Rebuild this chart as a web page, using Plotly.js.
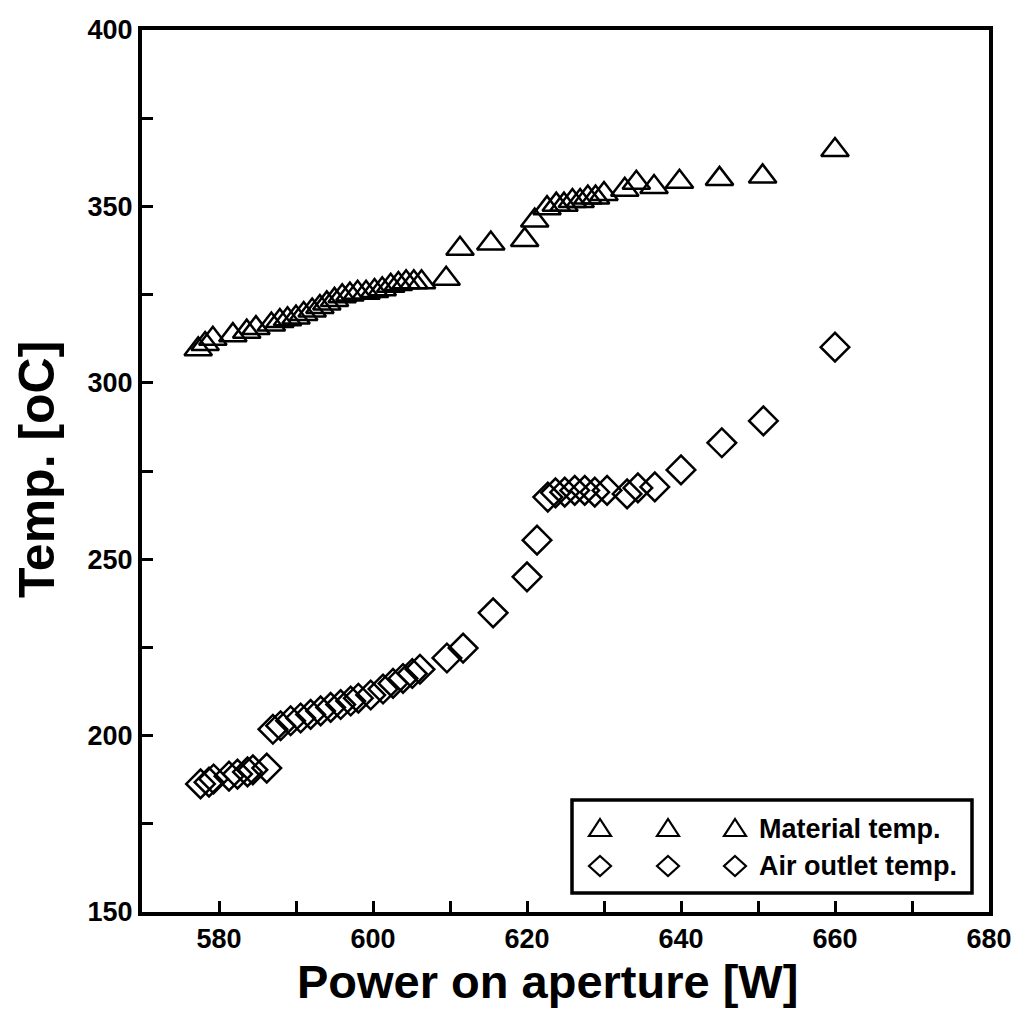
<!DOCTYPE html>
<html>
<head>
<meta charset="utf-8">
<script src="https://cdn.plot.ly/plotly-3.0.1.min.js"></script>
<style>html,body{margin:0;padding:0;background:#fff;}#chart{width:1016px;height:1020px;}</style>
</head>
<body>
<div id="chart"></div>
<script>
// Material temperature (triangles)
var matPower = [577.3, 578.2, 579.2, 581.8, 583.6, 584.8, 586.8, 587.9, 588.9, 590.0, 591.0, 592.1, 593.1, 594.0, 595.0, 596.0, 597.0, 598.0, 599.1, 600.2, 601.2, 602.3, 603.3, 604.3, 605.3, 606.3, 609.5, 611.3, 615.3, 619.7, 621.0, 622.6, 623.8, 624.8, 625.9, 626.9, 627.9, 628.9, 630.0, 632.7, 634.2, 636.5, 639.8, 645.0, 650.6, 660.0];
var matTemp = [309.5, 311.0, 312.5, 313.5, 314.5, 315.5, 316.5, 317.5, 318.0, 318.5, 319.5, 320.5, 321.5, 322.5, 323.5, 324.5, 325.0, 325.5, 325.5, 326.0, 326.5, 327.5, 328.0, 328.5, 328.5, 328.5, 329.5, 338.0, 339.5, 340.5, 346.0, 349.5, 350.5, 350.5, 351.5, 351.5, 352.5, 352.5, 353.5, 354.7, 356.7, 355.5, 357.0, 357.8, 358.5, 366.0];

// Air outlet temperature (diamonds)
var airPower = [577.6, 578.7, 579.3, 581.3, 582.4, 583.7, 584.4, 586.2, 587.0, 588.0, 589.3, 590.6, 591.9, 593.2, 594.5, 595.8, 597.1, 598.1, 599.7, 601.3, 602.6, 603.9, 605.1, 606.1, 609.6, 611.7, 615.6, 620.0, 621.3, 622.7, 623.7, 624.9, 626.2, 627.5, 628.8, 630.4, 633.0, 634.4, 636.6, 640.0, 645.3, 650.7, 660.0];
var airTemp = [186.3, 186.8, 187.7, 188.5, 189.1, 189.7, 190.3, 190.8, 201.8, 202.8, 204.2, 205.0, 206.0, 207.0, 208.0, 208.8, 209.8, 210.6, 211.5, 213.2, 214.8, 216.2, 217.6, 218.8, 222.0, 224.8, 234.8, 245.0, 255.4, 267.6, 268.8, 269.0, 269.5, 269.5, 269.0, 269.5, 268.5, 270.2, 270.5, 275.3, 283.0, 289.2, 310.1];

var xTickVals = [580, 600, 620, 640, 660, 680];
var yTickVals = [150, 200, 250, 300, 350, 400];
var seriesNames = ['Material temp.', 'Air outlet temp.'];
var xTitle = 'Power on aperture [W]';
var yTitle = 'Temp. [oC]';

var traces = [
  {x: matPower, y: matTemp, name: seriesNames[0], type: 'scatter', mode: 'markers',
   marker: {symbol: 'triangle-up-open', size: 24, color: '#000', line: {width: 2.5, color: '#000'}}},
  {x: airPower, y: airTemp, name: seriesNames[1], type: 'scatter', mode: 'markers',
   marker: {symbol: 'diamond-open', size: 22, color: '#000', line: {width: 2.5, color: '#000'}}}
];

var fontFam = '"Liberation Sans", Arial, sans-serif';
var W = 1016, H = 1020;
var ml = 142, mr = 27, mt = 30, mb = 108;
var pw = W - ml - mr, ph = H - mt - mb;
function px(X) { return (X - ml) / pw; }
function py(Y) { return (H - mb - Y) / ph; }

// Origin-style legend drawn in paper space: box, three symbols per row, label
var shapes = [];
var annotations = [];
var legBox = {x0: 572, y0: 800, x1: 972, y1: 893};
shapes.push({type: 'rect', xref: 'paper', yref: 'paper',
  x0: px(legBox.x0), x1: px(legBox.x1), y0: py(legBox.y1), y1: py(legBox.y0),
  line: {color: '#000', width: 3.5}, fillcolor: '#fff', layer: 'above'});
var rowY = [829, 866], symX = [600, 668, 735], textX = 757;
function triPath(cx, cy) {
  return 'M' + px(cx - 11) + ',' + py(cy + 7) + ' L' + px(cx + 11) + ',' + py(cy + 7) +
         ' L' + px(cx) + ',' + py(cy - 10) + ' Z';
}
function diaPath(cx, cy) {
  return 'M' + px(cx) + ',' + py(cy - 10) + ' L' + px(cx + 11) + ',' + py(cy) +
         ' L' + px(cx) + ',' + py(cy + 10) + ' L' + px(cx - 11) + ',' + py(cy) + ' Z';
}
for (var k = 0; k < symX.length; k++) {
  shapes.push({type: 'path', xref: 'paper', yref: 'paper', path: triPath(symX[k], rowY[0]),
    line: {color: '#000', width: 2.2}, layer: 'above'});
  shapes.push({type: 'path', xref: 'paper', yref: 'paper', path: diaPath(symX[k], rowY[1]),
    line: {color: '#000', width: 2.2}, layer: 'above'});
}
for (var r = 0; r < seriesNames.length; r++) {
  annotations.push({xref: 'paper', yref: 'paper', x: px(textX), y: py(rowY[r]),
    xanchor: 'left', yanchor: 'middle', showarrow: false,
    text: '<b>' + seriesNames[r] + '</b>',
    font: {family: fontFam, size: 27, color: '#000'}});
}
// axis titles placed as annotations to match the reference positions
annotations.push({xref: 'paper', yref: 'paper', x: px(547), y: py(981),
  xanchor: 'center', yanchor: 'middle', showarrow: false,
  text: '<b>' + xTitle + '</b>', font: {family: fontFam, size: 47, color: '#000'}});
annotations.push({xref: 'paper', yref: 'paper', x: px(37), y: py(470),
  xanchor: 'center', yanchor: 'middle', showarrow: false, textangle: -90,
  text: '<b>' + yTitle + '</b>', font: {family: fontFam, size: 50, color: '#000'}});

var layout = {
  width: W, height: H,
  margin: {l: ml, r: mr, t: mt, b: mb},
  paper_bgcolor: '#fff', plot_bgcolor: '#fff',
  showlegend: false,
  shapes: shapes,
  annotations: annotations,
  xaxis: {
    range: [570, 680], tickvals: xTickVals, ticktext: xTickVals.map(function (v) { return '<b>' + v + '</b>'; }),
    ticks: 'inside', ticklen: 11, tickwidth: 3, tickcolor: '#000',
    minor: {dtick: 10, tick0: 570, ticks: 'inside', ticklen: 11, tickwidth: 3, tickcolor: '#000'},
    showline: true, linewidth: 4, linecolor: '#000', mirror: true,
    showgrid: false, zeroline: false,
    tickfont: {family: fontFam, size: 27, color: '#000'}
  },
  yaxis: {
    range: [150, 400], tickvals: yTickVals, ticktext: yTickVals.map(function (v) { return '<b>' + v + '</b>'; }),
    ticks: 'inside', ticklen: 11, tickwidth: 3, tickcolor: '#000',
    minor: {dtick: 25, tick0: 150, ticks: 'inside', ticklen: 11, tickwidth: 3, tickcolor: '#000'},
    showline: true, linewidth: 4, linecolor: '#000', mirror: true,
    showgrid: false, zeroline: false,
    tickfont: {family: fontFam, size: 27, color: '#000'}
  }
};

Plotly.newPlot('chart', traces, layout, {displayModeBar: false, staticPlot: true});
</script>
</body>
</html>
